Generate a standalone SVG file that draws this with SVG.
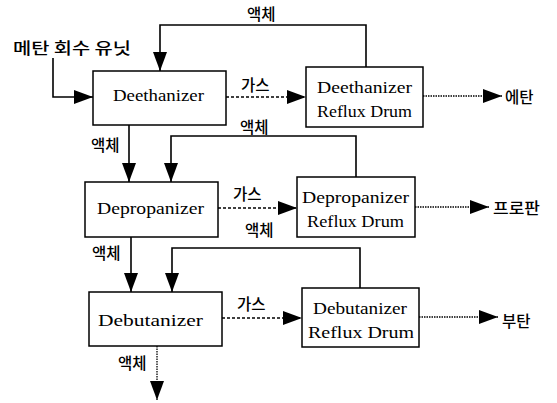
<svg xmlns="http://www.w3.org/2000/svg" width="557" height="403" viewBox="0 0 557 403">
  <style>
    .box { fill: #fff; stroke: #000; stroke-width: 1.5; }
    .en { font-family: "Liberation Serif", "Times New Roman", serif; font-size: 17px; fill: #000; }
    .ko { font-family: "Noto Sans CJK KR", "Noto Sans", sans-serif; font-size: 15.5px; font-weight: 500; fill: #000; }
    .liq { fill: none; stroke: #000; stroke-width: 1.6; }
    .gas { fill: none; stroke: #000; stroke-width: 1.5; stroke-dasharray: 3 2; }
    .out { fill: none; stroke: #000; stroke-width: 1.3; stroke-dasharray: 1.5 1; }
  </style>
  <defs>
    <marker id="arrow" markerUnits="userSpaceOnUse" markerWidth="20" markerHeight="14" refX="19" refY="7" orient="auto">
      <path d="M0,0 L19,7 L0,14 Z" fill="#000"/>
    </marker>
  </defs>

  <rect width="557" height="403" fill="#fff"/>

  <g id="connectors">
    <!-- feed -->
    <path class="liq" d="M53,58 V97 H93" marker-end="url(#arrow)"/>
    <!-- reflux returns -->
    <path class="liq" d="M366,67 V25 H160 V71" marker-end="url(#arrow)"/>
    <path class="liq" d="M356,177 V136 H171 V182" marker-end="url(#arrow)"/>
    <path class="liq" d="M360,288 V248 H172 V292" marker-end="url(#arrow)"/>
    <!-- bottoms -->
    <path class="liq" d="M129,125 V182" marker-end="url(#arrow)"/>
    <path class="liq" d="M131,237 V292" marker-end="url(#arrow)"/>
    <path class="out" d="M157,346 V400" marker-end="url(#arrow)"/>
    <!-- overhead gas -->
    <path class="gas" d="M226,97 H306" marker-end="url(#arrow)"/>
    <path class="gas" d="M218,208 H297" marker-end="url(#arrow)"/>
    <path class="gas" d="M222,318 H302" marker-end="url(#arrow)"/>
    <!-- products -->
    <path class="out" d="M423,96 H502" marker-end="url(#arrow)"/>
    <path class="out" d="M415,207 H489" marker-end="url(#arrow)"/>
    <path class="out" d="M419,317 H498" marker-end="url(#arrow)"/>

    <!-- stream labels -->
    <text class="ko" x="13" y="54" textLength="118" lengthAdjust="spacingAndGlyphs">메탄 회수 유닛</text>
    <text class="ko" x="247" y="20">액체</text>
    <text class="ko" x="241" y="91">가스</text>
    <text class="ko" x="505" y="103">에탄</text>
    <text class="ko" x="91" y="151">액체</text>
    <text class="ko" x="240" y="133">액체</text>
    <text class="ko" x="233" y="200">가스</text>
    <text class="ko" x="493" y="214" textLength="47" lengthAdjust="spacingAndGlyphs">프로판</text>
    <text class="ko" x="92" y="259">액체</text>
    <text class="ko" x="245" y="236">액체</text>
    <text class="ko" x="237" y="310">가스</text>
    <text class="ko" x="502" y="327">부탄</text>
    <text class="ko" x="118" y="369">액체</text>
  </g>

  <g id="deethanizer">
    <rect class="box" x="93" y="71" width="133" height="54"/>
    <text class="en" x="113" y="101" textLength="91" lengthAdjust="spacingAndGlyphs">Deethanizer</text>
  </g>
  <g id="deethanizer-drum">
    <rect class="box" x="306" y="67" width="117" height="60"/>
    <text class="en" x="317" y="93" textLength="95" lengthAdjust="spacingAndGlyphs">Deethanizer</text>
    <text class="en" x="317" y="117" textLength="95" lengthAdjust="spacingAndGlyphs">Reflux Drum</text>
  </g>

  <g id="depropanizer">
    <rect class="box" x="85" y="182" width="133" height="55"/>
    <text class="en" x="97" y="214" textLength="107" lengthAdjust="spacingAndGlyphs">Depropanizer</text>
  </g>
  <g id="depropanizer-drum">
    <rect class="box" x="297" y="177" width="118" height="60"/>
    <text class="en" x="302" y="203" textLength="107" lengthAdjust="spacingAndGlyphs">Depropanizer</text>
    <text class="en" x="307" y="227" textLength="97" lengthAdjust="spacingAndGlyphs">Reflux Drum</text>
  </g>

  <g id="debutanizer">
    <rect class="box" x="89" y="292" width="133" height="54"/>
    <text class="en" x="98" y="326" textLength="105" lengthAdjust="spacingAndGlyphs">Debutanizer</text>
  </g>
  <g id="debutanizer-drum">
    <rect class="box" x="302" y="288" width="117" height="59"/>
    <text class="en" x="313" y="314" textLength="94" lengthAdjust="spacingAndGlyphs">Debutanizer</text>
    <text class="en" x="308" y="338" textLength="106" lengthAdjust="spacingAndGlyphs">Reflux Drum</text>
  </g>
</svg>
